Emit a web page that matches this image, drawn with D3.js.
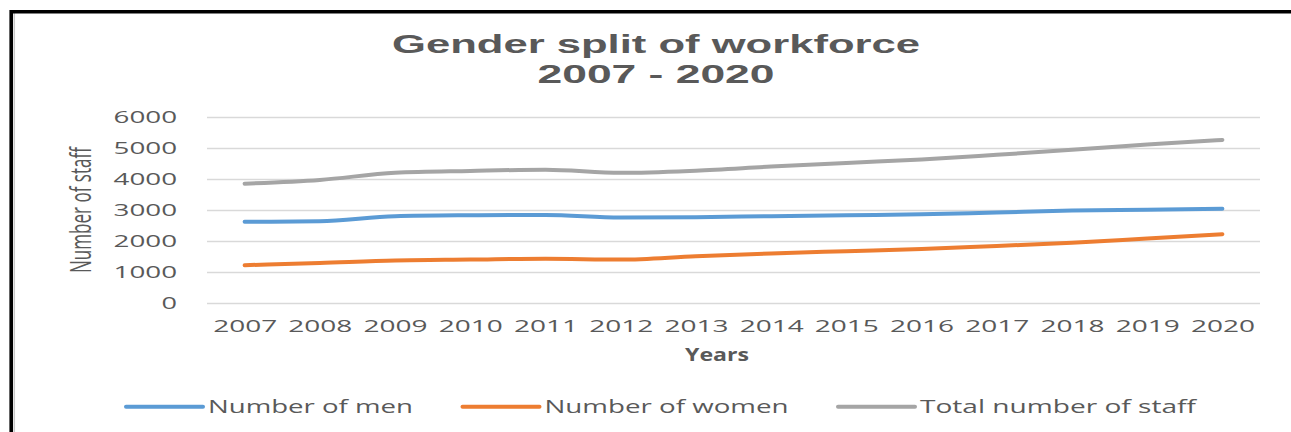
<!DOCTYPE html>
<html>
<head>
<meta charset="utf-8">
<script src="https://cdn.jsdelivr.net/npm/d3@7/dist/d3.min.js"></script>
<style>
  html, body { margin: 0; padding: 0; background: #fff; }
  svg { display: block; }
  text { font-family: "Open Sans", "Noto Sans", sans-serif; fill: #595959; }
</style>
</head>
<body>
<svg id="chart" width="1291" height="432"></svg>
<script>
// Workforce figures by year
const years = ["2007","2008","2009","2010","2011","2012","2013","2014","2015","2016","2017","2018","2019","2020"];
const men   = [2620, 2640, 2800, 2830, 2840, 2760, 2770, 2800, 2830, 2860, 2920, 2980, 3010, 3040];
const women = [1220, 1290, 1370, 1400, 1430, 1400, 1510, 1600, 1670, 1740, 1840, 1940, 2080, 2220];
const total = [3850, 3970, 4200, 4260, 4300, 4200, 4270, 4400, 4520, 4630, 4780, 4940, 5110, 5260];
const yTicks = [0, 1000, 2000, 3000, 4000, 5000, 6000];

const seriesNames  = ["Number of men", "Number of women", "Total number of staff"];
const seriesValues = [men, women, total];
const seriesColors = ["#5B9BD5", "#ED7D31", "#A5A5A5"];

const titleLines = ["Gender split of workforce", "2007 - 2020"];
const xTitle = "Years";
const yTitle = "Number of staff";

// Layout
const plot = { left: 207, right: 1260, top: 117, bottom: 303 };
const svg = d3.select("#chart");

// Stretch a text element horizontally to a target width
function fitWidth(sel, w) {
  sel.attr("textLength", w).attr("lengthAdjust", "spacingAndGlyphs");
}

// Frame
svg.append("rect").attr("x", 0).attr("y", 0).attr("width", 1291).attr("height", 432).attr("fill", "#fff");
svg.append("line").attr("x1", 14.3).attr("x2", 14.3).attr("y1", 13).attr("y2", 432)
  .attr("stroke", "#c8c8c8").attr("stroke-width", 1.5);
svg.append("path").attr("d", "M11.2,432 V11.7 H1291")
  .attr("fill", "none").attr("stroke", "#000").attr("stroke-width", 3.6);

// Scales
const x = d3.scalePoint().domain(years).range([plot.left, plot.right]).padding(0.5);
const y = d3.scaleLinear().domain([0, 6000]).range([plot.bottom, plot.top]);

// Y axis with gridlines
const yAxis = svg.append("g")
  .attr("transform", `translate(${plot.left},0)`)
  .call(d3.axisLeft(y).tickValues(yTicks).tickFormat(d3.format("d"))
    .tickSize(-(plot.right - plot.left)).tickPadding(30));
yAxis.select(".domain").remove();
yAxis.selectAll(".tick line").attr("stroke", "#D9D9D9").attr("stroke-width", 1.5);
yAxis.selectAll(".tick text")
  .attr("fill", "#595959").attr("font-size", 16).attr("dy", "0.37em")
  .style("font-family", "'Open Sans', sans-serif")
  .each(function(d) { fitWidth(d3.select(this), String(d).length * 16 - 0.5); });

// X axis labels
const xAxis = svg.append("g")
  .attr("transform", `translate(0,${plot.bottom})`)
  .call(d3.axisBottom(x).tickSize(0).tickPadding(17.5));
xAxis.select(".domain").remove();
xAxis.selectAll(".tick text")
  .attr("fill", "#595959").attr("font-size", 16)
  .style("font-family", "'Open Sans', sans-serif")
  .each(function() { fitWidth(d3.select(this), 64); });

// Series lines
const line = d3.line()
  .x((d, i) => x(years[i]))
  .y(d => y(d))
  .curve(d3.curveMonotoneX);

seriesValues.forEach((vals, k) => {
  svg.append("path")
    .datum(vals)
    .attr("d", line)
    .attr("fill", "none")
    .attr("stroke", seriesColors[k])
    .attr("stroke-width", 4)
    .attr("stroke-linecap", "round")
    .attr("stroke-linejoin", "round");
});

// Two-line title
const titleWidths = [528, 237];
const titleBaselines = [52.5, 83.3];
titleLines.forEach((t, i) => {
  svg.append("text")
    .attr("x", 656).attr("y", titleBaselines[i])
    .attr("text-anchor", "middle")
    .style("font-family", "'Liberation Sans', Arial, sans-serif")
    .attr("font-size", 26).attr("font-weight", "bold")
    .text(t)
    .call(fitWidth, titleWidths[i]);
});

// Axis titles
svg.append("text")
  .attr("x", 717).attr("y", 360.7)
  .attr("text-anchor", "middle")
  .attr("font-size", 17.5).attr("font-weight", "bold")
  .text(xTitle)
  .call(fitWidth, 64);

svg.append("text")
  .attr("transform", "translate(90.5,210) rotate(-90)")
  .attr("text-anchor", "middle")
  .attr("font-size", 28.5)
  .text(yTitle)
  .call(fitWidth, 126);

// Legend
const legendY = 406.7;
const legendLine = 77;
const legendGap = 5;
const legendSpacing = 49.5;
const legendTextW = [205, 244, 276];
let lx = 126;
seriesNames.forEach((name, k) => {
  svg.append("line")
    .attr("x1", lx).attr("x2", lx + legendLine)
    .attr("y1", legendY).attr("y2", legendY)
    .attr("stroke", seriesColors[k]).attr("stroke-width", 4)
    .attr("stroke-linecap", "round");
  svg.append("text")
    .attr("x", lx + legendLine + legendGap).attr("y", 412.7)
    .attr("font-size", 17.5)
    .text(name)
    .call(fitWidth, legendTextW[k]);
  lx += legendLine + legendGap + legendTextW[k] + legendSpacing;
});
</script>
</body>
</html>
